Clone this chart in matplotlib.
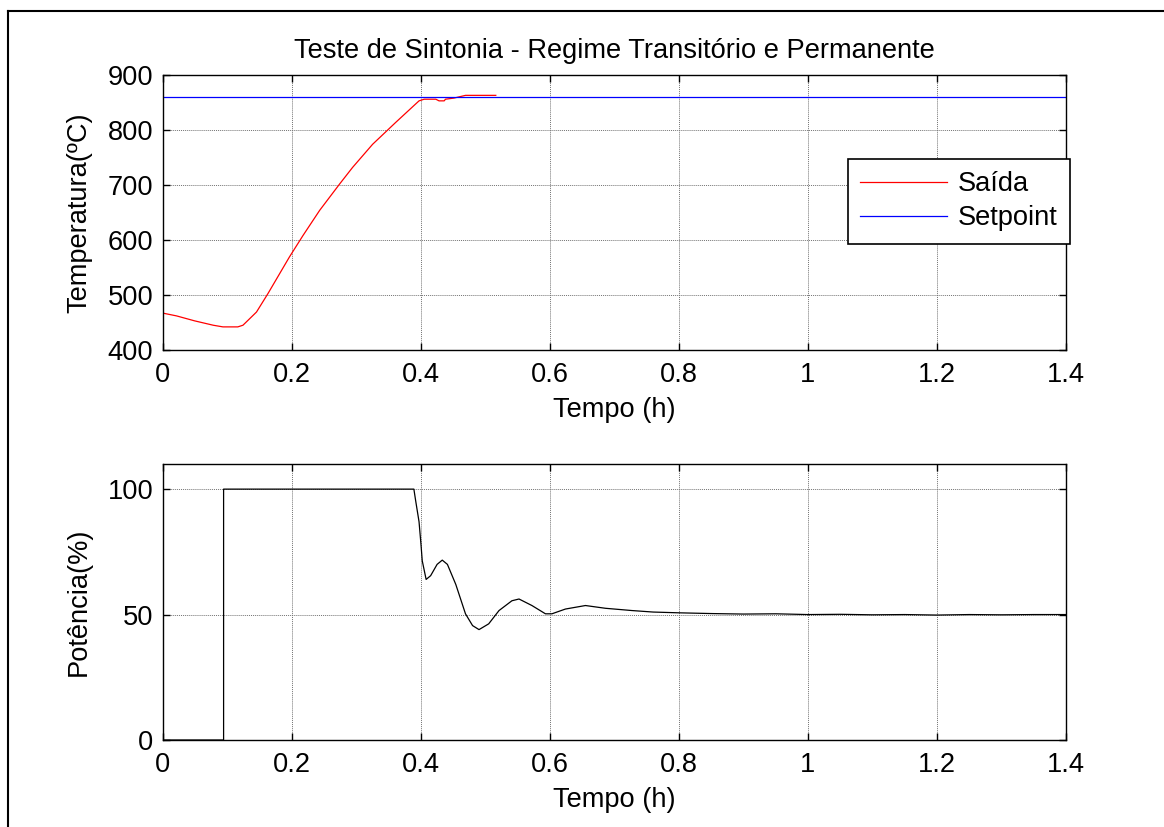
import matplotlib
matplotlib.use("Agg")
import matplotlib.pyplot as plt
from matplotlib.lines import Line2D

# --- Dados ---
tempo_saida = [0.0, 0.021, 0.049, 0.078, 0.093, 0.116, 0.124, 0.145, 0.163, 0.178,
               0.196, 0.217, 0.243, 0.274, 0.294, 0.325, 0.361, 0.397, 0.405, 0.423,
               0.428, 0.436, 0.438, 0.451, 0.469, 0.516]
temperatura_saida = [467, 462, 453, 445, 442, 442, 445, 469, 503, 533,
                     569, 608, 654, 702, 732, 774, 814, 853, 856, 856,
                     853, 853, 856, 858, 863, 863]

tempo_setpoint = [0.0, 1.4]
temperatura_setpoint = [860, 860]

tempo_potencia = [0.0, 0.094, 0.094, 0.389, 0.392, 0.397, 0.400, 0.402, 0.408, 0.415,
                  0.425, 0.433, 0.441, 0.454, 0.469, 0.480, 0.490, 0.505, 0.521, 0.541,
                  0.552, 0.572, 0.593, 0.603, 0.624, 0.655, 0.686, 0.727, 0.760, 0.799,
                  0.850, 0.900, 0.950, 1.000, 1.050, 1.100, 1.150, 1.200, 1.250, 1.300,
                  1.350, 1.400]
potencia = [0, 0, 100, 100, 95, 87, 78, 71.4, 64, 65.5,
            70, 71.7, 70, 62, 50.3, 45.6, 44, 46.3, 51.6, 55.5,
            56.2, 53.6, 50.3, 50.3, 52.2, 53.6, 52.5, 51.6, 51.0, 50.7,
            50.4, 50.2, 50.3, 50.0, 50.1, 49.9, 50.0, 49.8, 50.0, 49.9,
            50.0, 50.0]

xticks = [0, 0.2, 0.4, 0.6, 0.8, 1.0, 1.2, 1.4]
xtick_labels = ["0", "0.2", "0.4", "0.6", "0.8", "1", "1.2", "1.4"]
yticks_temp = [400, 500, 600, 700, 800, 900]
yticks_pot = [0, 50, 100]

FONTE = 19.6
plt.rcParams['font.family'] = ['Liberation Sans', 'DejaVu Sans']
plt.rcParams['font.size'] = FONTE


def estilo_matlab(axes):
    axes.grid(True, linestyle=(0, (1, 1)), color='0.45', linewidth=0.7)
    axes.tick_params(direction='in', top=True, right=True, length=5, width=1,
                     labelsize=FONTE)
    axes.tick_params(axis='x', pad=9)
    axes.tick_params(axis='y', pad=7)
    for spine in axes.spines.values():
        spine.set_linewidth(1.0)
    axes.set_xlim(0, 1.4)
    axes.set_xticks(xticks, xtick_labels)


figure = plt.figure(figsize=(11.64, 8.27), dpi=100)
ax_temp = figure.add_axes([0.1400, 0.5768, 0.7758, 0.3325])
ax_pot = figure.add_axes([0.1400, 0.1052, 0.7758, 0.3337])

# --- Temperatura ---
ax_temp.plot(tempo_saida, temperatura_saida, color='red', linewidth=0.9, label='Saída')
ax_temp.plot(tempo_setpoint, temperatura_setpoint, color='blue', linewidth=0.9, label='Setpoint')
estilo_matlab(ax_temp)
ax_temp.set_ylim(400, 900)
ax_temp.set_yticks(yticks_temp)
ax_temp.set_title('Teste de Sintonia - Regime Transitório e Permanente', fontsize=FONTE, pad=12)
ax_temp.set_xlabel('Tempo (h)', fontsize=FONTE, labelpad=6)
ax_temp.set_ylabel('Temperatura(ºC)', fontsize=FONTE, labelpad=11)
legenda = ax_temp.legend(loc='upper right', bbox_to_anchor=(1070 / 1164, 1 - 159 / 827),
                         bbox_transform=figure.transFigure, borderaxespad=0, fancybox=False,
                         framealpha=1, edgecolor='black', handlelength=3.2, handletextpad=0.4,
                         labelspacing=0.3, borderpad=0.45, fontsize=FONTE)
legenda.get_frame().set_linewidth(1.2)

# --- Potência ---
ax_pot.plot(tempo_potencia, potencia, color='black', linewidth=0.9)
estilo_matlab(ax_pot)
ax_pot.set_ylim(0, 110)
ax_pot.set_yticks(yticks_pot)
ax_pot.set_xlabel('Tempo (h)', fontsize=FONTE, labelpad=6)
ax_pot.set_ylabel('Potência(%)', fontsize=FONTE, labelpad=11)

# moldura da figura (só topo e esquerda aparecem no recorte)
figure.add_artist(Line2D([8 / 1164, 1.0], [1 - 11 / 827, 1 - 11 / 827],
                         transform=figure.transFigure, color='black', linewidth=1.5))
figure.add_artist(Line2D([8 / 1164, 8 / 1164], [0.0, 1 - 11 / 827],
                         transform=figure.transFigure, color='black', linewidth=1.5))

figure.savefig('out.png', dpi=100)
plt.close(figure)
